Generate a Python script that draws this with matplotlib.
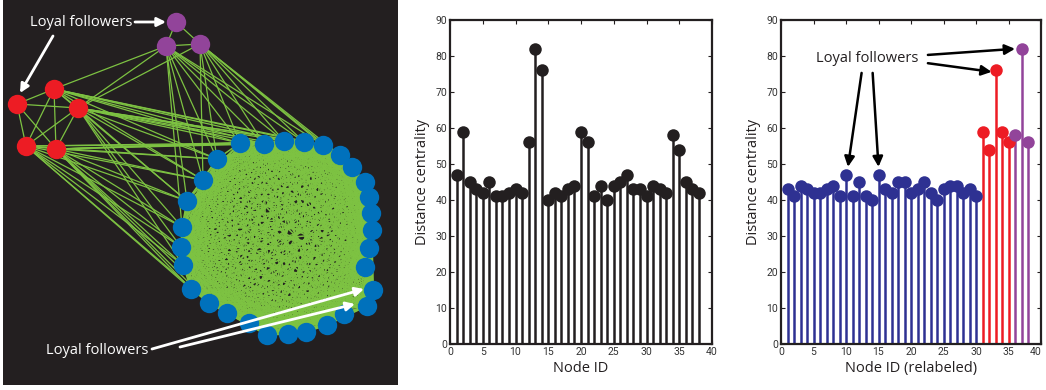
import itertools
import numpy as np
import matplotlib
matplotlib.use("Agg")
import matplotlib.pyplot as plt

# ---------------- data ----------------
node_ids = np.arange(1, 39)
centrality = [47, 59, 45, 43, 42, 45, 41, 41, 42, 43, 42, 56, 82, 76, 40, 42, 41, 43, 44, 59,
              56, 41, 44, 40, 44, 45, 47, 43, 43, 41, 44, 43, 42, 58, 54, 45, 43, 42]

relab_blue_ids = np.arange(1, 31)
relab_blue = [43, 41, 44, 43, 42, 42, 43, 44, 41, 47, 41, 45, 41, 40, 47, 43, 42, 45, 45, 42,
              43, 45, 42, 40, 43, 44, 44, 42, 43, 41]
relab_red_ids = np.arange(31, 36)
relab_red = [59, 54, 76, 59, 56]
relab_purple_ids = np.arange(36, 39)
relab_purple = [58, 82, 56]

# network layout (panel pixel coordinates)
blue_x = [240, 264, 284, 304, 323, 340, 352, 365, 369, 371, 372, 369, 365, 373, 367,
          344, 327, 306, 288, 267, 249, 227, 209, 191, 183, 181, 182, 187, 203, 217]
blue_y = [143, 144, 141, 142, 145, 155, 167, 182, 197, 213, 230, 248, 267, 290, 306,
          314, 325, 332, 334, 335, 323, 313, 303, 289, 265, 247, 227, 201, 180, 159]
red_x = [17, 54, 78, 26, 56]
red_y = [104, 89, 108, 146, 149]
purple_x = [176, 166, 200]
purple_y = [22, 46, 44]

# links from red / purple nodes to blue nodes (indices)
red_blue_links = [[], [0, 1, 2, 3, 4, 29, 28, 27],
                  [0, 1, 2, 3, 4, 5, 29, 28, 27, 26, 25, 24],
                  [0, 1, 29, 28, 27, 26, 25, 24, 23, 22],
                  [0, 1, 2, 3, 29, 28, 27, 26, 25, 24, 23, 22, 21]]
purple_blue_links = [[], [0, 1, 2, 3, 4, 29, 28, 27, 26],
                     [0, 1, 2, 3, 4, 5, 6, 29, 28]]
purple_red_links = [[], [1, 2], [2]]

DARK = "#231f20"
GREEN = "#7dc242"
BLUE = "#0071bc"
RED = "#ed1c24"
PURPLE = "#92449a"
NAVY = "#2e3192"

label_font = ["Open Sans", "DejaVu Sans"]
tick_font = ["Liberation Sans Narrow", "Roboto", "DejaVu Sans"]

fig = plt.figure(figsize=(10.46, 3.90), dpi=100)

# ---------------- network panel ----------------
axn = fig.add_axes([3 / 1046, 5 / 390, 395 / 1046, 385 / 390])
axn.set_facecolor(DARK)
axn.set_xlim(3, 398)
axn.set_ylim(385, 0)
axn.set_xticks([])
axn.set_yticks([])
for s in axn.spines.values():
    s.set_visible(False)

blue_segs = []
for i, j in itertools.combinations(range(len(blue_x)), 2):
    blue_segs.append(((blue_x[i], blue_x[j]), (blue_y[i], blue_y[j])))
other_segs = []
for i, j in itertools.combinations(range(len(red_x)), 2):
    other_segs.append(((red_x[i], red_x[j]), (red_y[i], red_y[j])))
for i, j in itertools.combinations(range(len(purple_x)), 2):
    other_segs.append(((purple_x[i], purple_x[j]), (purple_y[i], purple_y[j])))
for r, targets in enumerate(red_blue_links):
    for b in targets:
        other_segs.append(((red_x[r], blue_x[b]), (red_y[r], blue_y[b])))
for p, targets in enumerate(purple_blue_links):
    for b in targets:
        other_segs.append(((purple_x[p], blue_x[b]), (purple_y[p], blue_y[b])))
for p, targets in enumerate(purple_red_links):
    for r in targets:
        other_segs.append(((purple_x[p], red_x[r]), (purple_y[p], red_y[r])))
for xs, ys in blue_segs:
    axn.plot(xs, ys, color=GREEN, lw=1.1, solid_capstyle="butt", zorder=1)
for xs, ys in other_segs:
    axn.plot(xs, ys, color=GREEN, lw=0.9, solid_capstyle="butt", zorder=1)

ns = 195
axn.scatter(blue_x, blue_y, s=ns, color=BLUE, zorder=3, linewidths=0)
axn.scatter(red_x, red_y, s=ns, color=RED, zorder=3, linewidths=0)
axn.scatter(purple_x, purple_y, s=ns, color=PURPLE, zorder=3, linewidths=0)

wprops = dict(arrowstyle="-|>", color="white", lw=2.0, mutation_scale=13, shrinkA=0, shrinkB=0)
axn.text(81, 22, "Loyal followers", color="white", fontsize=10.5, family=label_font,
         ha="center", va="center", zorder=5)
axn.annotate("", xy=(166, 22), xytext=(135, 22), arrowprops=wprops, zorder=5)
axn.annotate("", xy=(20, 93), xytext=(53, 36), arrowprops=wprops, zorder=5)
axn.text(97, 350, "Loyal followers", color="white", fontsize=10.5, family=label_font,
         ha="center", va="center", zorder=5)
axn.annotate("", xy=(364, 289), xytext=(152, 349), arrowprops=wprops, zorder=5)
axn.annotate("", xy=(355, 304), xytext=(180, 347), arrowprops=wprops, zorder=5)


def style_axes(ax, xlabel):
    ax.set_xlim(0, 40)
    ax.set_ylim(0, 90)
    ax.set_xticks(np.arange(0, 41, 5))
    ax.set_yticks(np.arange(0, 91, 10))
    ax.tick_params(direction="in", top=True, right=True, length=3, width=0.8,
                   colors=DARK, labelsize=7.5, pad=2)
    for lab in ax.get_xticklabels() + ax.get_yticklabels():
        lab.set_family(tick_font)
        lab.set_fontstretch("condensed")
        lab.set_color("#333333")
    for s in ax.spines.values():
        s.set_linewidth(1.6)
        s.set_color(DARK)
    ax.set_xlabel(xlabel, fontsize=10.5, family=label_font, color=DARK, labelpad=3)
    ax.set_ylabel("Distance centrality", fontsize=10.5, family=label_font, color=DARK, labelpad=4)


def draw_stem(ax, x, y, color):
    ml, sl, bl = ax.stem(x, y, linefmt="-", markerfmt="o", basefmt=" ")
    plt.setp(sl, color=color, linewidth=1.8)
    plt.setp(ml, color=color, markersize=9, markeredgewidth=0)
    ml.set_zorder(3)
    sl.set_zorder(2)


# ---------------- middle chart ----------------
axm = fig.add_axes([450 / 1046, 46 / 390, 262 / 1046, 324 / 390])
draw_stem(axm, node_ids, centrality, DARK)
style_axes(axm, "Node ID")

# ---------------- right chart ----------------
axr = fig.add_axes([781 / 1046, 46 / 390, 260 / 1046, 324 / 390])
draw_stem(axr, relab_blue_ids, relab_blue, NAVY)
draw_stem(axr, relab_red_ids, relab_red, RED)
draw_stem(axr, relab_purple_ids, relab_purple, PURPLE)
style_axes(axr, "Node ID (relabeled)")
axr.get_xticklabels()[-1].set_horizontalalignment("right")

kprops = dict(arrowstyle="-|>", color="black", lw=1.8, mutation_scale=15, shrinkA=0, shrinkB=0)
axr.text(13.3, 79.3, "Loyal followers", fontsize=10.5, family=label_font, color=DARK,
         ha="center", va="center", zorder=5)
axr.annotate("", xy=(10.3, 49.2), xytext=(12.4, 75.3), arrowprops=kprops, zorder=5)
axr.annotate("", xy=(15.0, 49.2), xytext=(14.1, 75.3), arrowprops=kprops, zorder=5)
axr.annotate("", xy=(36.0, 82.0), xytext=(22.6, 80.3), arrowprops=kprops, zorder=5)
axr.annotate("", xy=(32.4, 75.6), xytext=(22.6, 78.0), arrowprops=kprops, zorder=5)

fig.savefig("out.png", dpi=100)
